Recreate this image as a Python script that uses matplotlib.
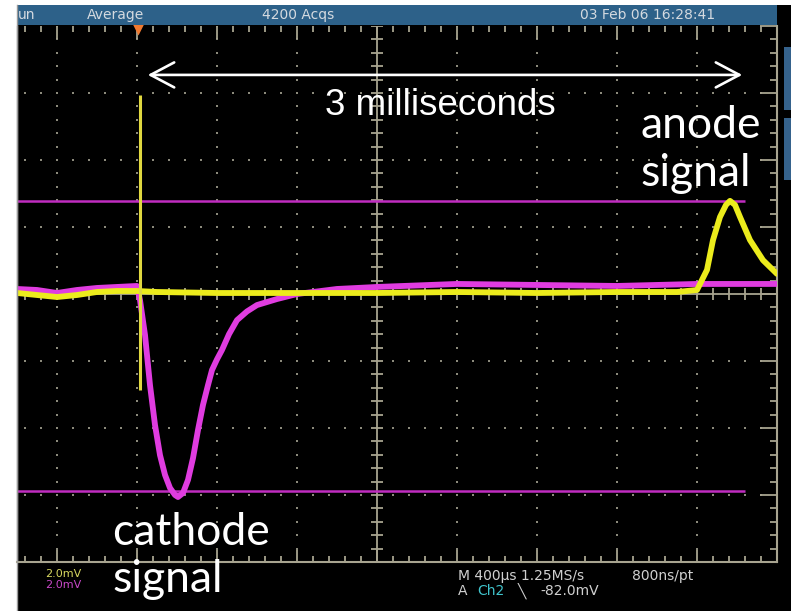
import numpy as np
import matplotlib.pyplot as plt
from matplotlib.patches import Rectangle, FancyArrowPatch
from matplotlib.lines import Line2D

W, H = 791, 611

## traces: time in us (400 us/div), signal in mV (2 mV/div)
ch1_t = [-1800, -1700, -1600, -1500, -1400, -1300, -1200, -1100, -800, -400, 0,
         400, 800, 1200, 1500, 1600, 1650, 1680, 1715, 1745, 1765, 1790, 1815,
         1865, 1930, 1990, 2000]
ch1_mv = [0.03, -0.03, -0.09, -0.03, 0.06, 0.09, 0.09, 0.06, 0.03, 0.03, 0.03,
          0.06, 0.03, 0.06, 0.06, 0.12, 0.72, 1.61, 2.30, 2.66, 2.78, 2.66, 2.30,
          1.61, 1.01, 0.66, 0.60]

ch2_t = [-1800, -1700, -1600, -1500, -1400, -1300, -1200, -1185, -1160, -1135,
         -1110, -1085, -1060, -1035, -1010, -995, -970, -945, -920, -895, -870,
         -845, -825, -800, -775, -740, -700, -650, -600, -500, -400, -200, 0,
         400, 800, 1200, 1600, 2000]
ch2_mv = [0.15, 0.12, 0.03, 0.12, 0.18, 0.21, 0.24, -0.18, -1.22, -2.72,
          -3.91, -4.81, -5.40, -5.79, -6.00, -6.06, -5.94, -5.55, -4.90, -4.06,
          -3.31, -2.72, -2.27, -1.95, -1.67, -1.20, -0.78, -0.52, -0.33, -0.15,
          0.0, 0.15, 0.21, 0.30, 0.27, 0.24, 0.30, 0.30]

spike_t = -1185
spike_mv = [-2.87, 5.94]
cursor_mv = [2.78, -5.88]
cursor_end = 1840
trig_t = -1195

grid_col = '#a8a490'
dot_col = '#8c8a7c'

def fx(px):
    return px / W

def fy(py):
    return 1 - py / H

fig = plt.figure(figsize=(W / 100, H / 100), dpi=100)
fig.patch.set_facecolor('white')

# scope body + header bar
fig.add_artist(Rectangle((fx(17), 0), 1 - fx(17), fy(5), transform=fig.transFigure,
                         facecolor='black', edgecolor='none', zorder=0))
fig.add_artist(Rectangle((fx(17), fy(25)), fx(777) - fx(17), fy(5) - fy(25),
                         transform=fig.transFigure, facecolor='#2d6189',
                         edgecolor='none', zorder=1))
fig.add_artist(Rectangle((fx(784), fy(110)), 1 - fx(784), fy(47) - fy(110),
                         transform=fig.transFigure, facecolor='#35628c', edgecolor='none'))
fig.add_artist(Rectangle((fx(784), fy(180)), 1 - fx(784), fy(118) - fy(180),
                         transform=fig.transFigure, facecolor='#35628c', edgecolor='none'))
fig.add_artist(Line2D([fx(17), fx(17)], [0, fy(5)], transform=fig.transFigure,
                      color='#9a9a9a', lw=1))

hdr = dict(color='#d4dae0', fontsize=10, va='center', family='DejaVu Sans')
fig.text(fx(18), fy(15), 'un', **hdr)
fig.text(fx(87), fy(15), 'Average', **hdr)
fig.text(fx(262), fy(15), '4200 Acqs', **hdr)
fig.text(fx(580), fy(15), '03 Feb 06 16:28:41', **hdr)

# graticule
ax = fig.add_axes([fx(17), fy(562), fx(777) - fx(17), fy(26) - fy(562)])
ax.set_facecolor('black')
ax.set_xlim(-1800, 2000)
ax.set_ylim(-8, 8)

xmaj = np.arange(-1600, 2001, 400)
xmin = np.arange(-1760, 2001, 80)
ymaj = np.arange(-8, 8.1, 2)
ymin = np.arange(-8, 8.01, 0.4)
ax.set_xticks(xmaj)
ax.set_xticks(xmin, minor=True)
ax.set_yticks(ymaj)
ax.set_yticks(ymin, minor=True)
ax.tick_params(axis='x', which='both', top=True, bottom=True, direction='in',
               labelbottom=False, color=grid_col, width=1.3)
ax.tick_params(axis='x', which='major', length=9)
ax.tick_params(axis='x', which='minor', length=4.5)
ax.tick_params(axis='y', which='both', left=False, right=True, direction='in',
               labelleft=False, color=grid_col, width=1.3)
ax.tick_params(axis='y', which='major', length=12)
ax.tick_params(axis='y', which='minor', length=5)
for s in ['bottom', 'right']:
    ax.spines[s].set_color(grid_col)
    ax.spines[s].set_linewidth(1.5)
ax.spines['top'].set_visible(False)
ax.spines['left'].set_color('#9a9a9a')
ax.spines['left'].set_linewidth(1)

# dotted grid lines
vx = [x for x in xmaj if x != 0 and x < 2000]
hy = [y for y in ymaj if y != 0 and abs(y) < 8]
dx, dy = np.meshgrid(vx, ymin)
ax.scatter(dx.ravel(), dy.ravel(), s=2, marker='s', color=dot_col, lw=0, zorder=1)
dx, dy = np.meshgrid(xmin, hy)
ax.scatter(dx.ravel(), dy.ravel(), s=2, marker='s', color=dot_col, lw=0, zorder=1)

# centre cross with ticks
ax.axvline(0, color=grid_col, lw=1.3, zorder=1)
ax.axhline(0, color=grid_col, lw=1.3, zorder=1)
ax.hlines(ymin, -28, 28, color=grid_col, lw=1.3, zorder=1)
ax.vlines(xmin, -0.17, 0.17, color=grid_col, lw=1.3, zorder=1)

# cursors
ax.hlines(cursor_mv, -1800, cursor_end, color='#c02cc0', lw=1.8, zorder=2)

# traces
ax.plot(ch2_t, ch2_mv, color='#e03ce0', lw=4.2, solid_joinstyle='round',
        solid_capstyle='round', zorder=3)
ax.plot(ch1_t, ch1_mv, color='#ecec1c', lw=4.2, solid_joinstyle='round',
        solid_capstyle='round', zorder=4)
ax.vlines(spike_t, spike_mv[0], spike_mv[1], color='#e0d840', lw=2.2, zorder=5)

# trigger marker
ax.plot([trig_t], [7.9], marker='v', ms=9, color='#f07a30', mec='none',
        clip_on=False, zorder=6)

# annotations
arr = FancyArrowPatch((-1160, 6.54), (1840, 6.54), arrowstyle='<->,head_length=17,head_width=9',
                      mutation_scale=1, color='white', lw=1.9, zorder=7)
ax.add_patch(arr)
ax.text(-260, 5.34, '3 milliseconds', color='white', fontsize=26.5,
        family='Liberation Sans', va='baseline', ha='left', zorder=8)
lab = dict(color='white', fontsize=32, family='Lato', va='baseline', ha='left',
           zorder=8, clip_on=False)
ax.text(1315, 4.66, 'anode', **lab)
ax.text(1315, 3.22, 'signal', **lab)
ax.text(-1325, -7.49, 'cathode', **lab)
ax.text(-1325, -8.90, 'signal', **lab)

# readouts below the screen
ro = dict(fontsize=8, va='center', family='DejaVu Sans')
fig.text(fx(45), fy(574), '2.0mV', color='#d8d860', **ro)
fig.text(fx(45), fy(585), '2.0mV', color='#c848c8', **ro)
ro['fontsize'] = 10
fig.text(fx(458), fy(576), 'M 400\u00b5s 1.25MS/s', color='#d0d0d0', **ro)
fig.text(fx(632), fy(576), '800ns/pt', color='#d0d0d0', **ro)
fig.text(fx(458), fy(591), 'A', color='#d0d0d0', **ro)
fig.text(fx(477), fy(591), 'Ch2', color='#40c4cc', **ro)
fig.text(fx(518), fy(591), '\u2572', color='#d0d0d0', **ro)
fig.text(fx(540), fy(591), '-82.0mV', color='#d0d0d0', **ro)

fig.savefig('out.png', dpi=100, facecolor=fig.get_facecolor())
